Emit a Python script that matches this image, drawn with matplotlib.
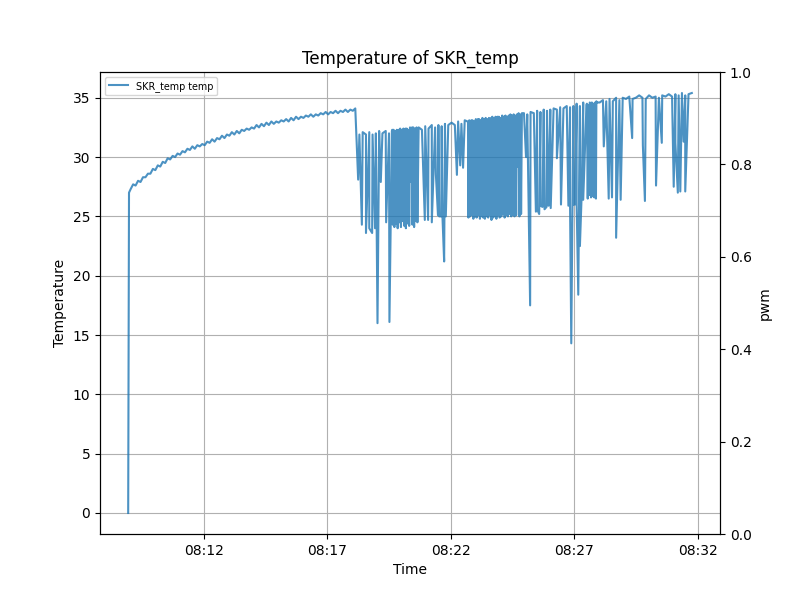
import numpy as np
import pandas as pd
import matplotlib
matplotlib.use("Agg")
import matplotlib.pyplot as plt
import matplotlib.dates as mdates

# all times are seconds after 08:08:00
start = pd.Timestamp("2021-01-01 08:08:00")

# power-on: first two samples
boot_t = [56, 58]
boot_temp = [0.0, 27.0]

# warm-up, one sample every 6 s from 62 s
warm_start = 62
warm_step = 6
warm_temp = [27.3, 27.7, 27.6, 28.0, 27.9, 28.3, 28.3, 28.6, 28.6, 29.0,
             28.9, 29.3, 29.2, 29.6, 29.5, 29.9, 29.8, 30.1, 30.0, 30.3,
             30.2, 30.5, 30.4, 30.7, 30.6, 30.9, 30.7, 31.0, 30.9, 31.1,
             31.0, 31.3, 31.2, 31.5, 31.3, 31.6, 31.5, 31.8, 31.6, 31.9,
             31.8, 32.1, 31.9, 32.2, 32.0, 32.3, 32.2, 32.4, 32.3, 32.5,
             32.4, 32.7, 32.5, 32.8, 32.6, 32.9, 32.7, 33.0, 32.8, 33.0,
             32.9, 33.1, 33.0, 33.2, 33.0, 33.3, 33.1, 33.4, 33.2, 33.4,
             33.3, 33.5, 33.4, 33.6, 33.4, 33.6, 33.5, 33.7, 33.6, 33.8,
             33.6, 33.8, 33.7, 33.9, 33.7, 33.9, 33.8, 34.0, 33.8, 34.0,
             33.9, 34.1]

# regulated phase, one sample every 8 s from 618 s
reg_start = 618
reg_step = 8
reg_temp = [31.9, 32.1, 31.9, 32.1, 31.9, 32.0, 32.2, 32.0, 32.2, 32.0,
            32.3, 32.1, 32.3, 32.2, 32.4, 32.2, 32.5, 32.3, 32.5, 32.3,
            32.6, 32.4, 32.7, 32.5, 32.7, 32.6, 32.8, 32.7, 32.9, 32.7,
            33.0, 32.8, 33.1, 32.9, 33.1, 33.0, 33.2, 33.1, 33.2, 33.1,
            33.3, 33.2, 33.4, 33.3, 33.4, 33.3, 33.5, 33.4, 33.6, 33.5,
            33.7, 33.6, 33.8, 33.7, 33.9, 33.8, 34.0, 33.9, 34.0, 34.1,
            34.0, 34.2, 34.1, 34.3, 34.2, 34.3, 34.5, 34.3, 34.6, 34.4,
            34.6, 34.5, 34.7, 34.6, 34.8, 34.7, 34.9, 34.7, 35.0, 34.8,
            35.0, 34.9, 35.1, 34.9, 35.0, 35.2, 35.0, 34.9, 35.2, 35.0,
            35.1, 35.0, 35.2, 35.1, 35.3, 35.1, 35.3, 35.2, 35.4, 35.2,
            35.3, 35.4]

# single-sample drops while the heater cycles
dip_t = [615, 624, 634, 642, 649, 656, 662, 670, 683, 691,
         777, 785, 794, 804, 809, 812, 817, 820, 824, 828,
         855, 863, 870, 1023, 1033, 1047, 1050, 1055, 1058, 1063,
         1068, 1073, 1078, 1083, 1098, 1108, 1126, 1130, 1133, 1138,
         1142, 1146, 1150, 1154, 1158, 1162, 1212, 1224, 1232, 1242,
         1253, 1281, 1307, 1312, 1339, 1353, 1382, 1386, 1392, 1398,
         1406, 1410]
dip_temp = [28.1, 24.3, 23.6, 24.0, 23.6, 24.0, 16.0, 27.9, 24.5, 16.1,
            24.7, 24.7, 24.5, 28.5, 25.1, 25.0, 25.0, 24.9, 21.2, 25.0,
            28.5, 29.3, 29.1, 30.0, 17.5, 25.4, 25.6, 25.2, 25.9, 25.8,
            25.6, 25.8, 25.9, 25.7, 29.9, 26.0, 25.9, 26.1, 14.3, 26.0,
            26.0, 26.2, 18.4, 22.5, 26.6, 26.4, 30.9, 26.5, 26.6, 23.2,
            26.4, 31.6, 31.0, 26.3, 27.6, 31.2, 27.5, 31.2, 27.0, 27.1,
            31.3, 27.1]

# fast on/off bursts, one sample every 2 s
burst_a_start = 697
burst_a_temp = [32.2, 24.3, 32.3, 24.1, 32.2, 24.4, 32.3, 24.0, 32.2, 24.5,
                32.4, 24.1, 32.3, 24.6, 32.4, 24.2, 32.3, 24.0, 32.4, 24.4,
                32.3, 24.2, 32.5, 27.9, 32.4, 24.3, 32.5, 24.1, 32.4, 24.6,
                32.5, 24.5]

burst_b_start = 881
burst_b_temp = [33.0, 24.9, 33.1, 25.0, 32.9, 25.1, 33.1, 24.8, 33.0, 25.0,
                33.2, 24.9, 33.1, 25.1, 33.2, 24.8, 33.1, 25.0, 33.3, 24.9,
                33.2, 24.8, 33.3, 25.0, 33.2, 24.9, 33.3, 25.1, 33.2, 24.7,
                33.4, 24.9, 33.3, 25.0, 33.4, 24.8, 33.3, 25.1, 33.4, 24.9,
                33.3, 25.0, 33.5, 25.2, 33.4, 24.9, 33.5, 25.1, 33.4, 25.0,
                33.5, 25.2, 33.6, 25.0, 33.5, 25.1, 33.6, 25.0, 33.5, 25.1,
                33.6, 29.2, 33.7, 25.0, 33.6, 25.2, 33.7]

burst_c_start = 1171
burst_c_temp = [34.5, 26.5, 34.4, 26.8, 34.5, 26.6, 34.6, 26.7, 34.5, 26.6,
                34.6, 26.5, 34.6]
burst_step = 2


def clock(t0, step, values):
    return t0 + step * np.arange(len(values))


secs = np.concatenate([
    boot_t,
    clock(warm_start, warm_step, warm_temp),
    clock(reg_start, reg_step, reg_temp),
    dip_t,
    clock(burst_a_start, burst_step, burst_a_temp),
    clock(burst_b_start, burst_step, burst_b_temp),
    clock(burst_c_start, burst_step, burst_c_temp),
]).astype(float)
temps = np.concatenate([boot_temp, warm_temp, reg_temp, dip_temp,
                        burst_a_temp, burst_b_temp, burst_c_temp])
order = np.argsort(secs, kind="stable")
times = start + pd.to_timedelta(secs[order], unit="s")
temps = temps[order]

fig, ax = plt.subplots(figsize=(8, 6), dpi=100)
ax.plot(times, temps, color="C0", alpha=0.8, label="SKR_temp temp")
ax.set_xlabel("Time")
ax.set_ylabel("Temperature")
ax.set_title("Temperature of SKR_temp")
ax.xaxis.set_major_locator(mdates.MinuteLocator(byminute=range(2, 60, 5)))
ax.xaxis.set_major_formatter(mdates.DateFormatter("%H:%M"))
ax.grid(True)
ax.legend(loc="upper left", fontsize="x-small")

ax2 = ax.twinx()
ax2.set_ylim(0, 1)
ax2.set_ylabel("pwm")

fig.savefig("out.png")
